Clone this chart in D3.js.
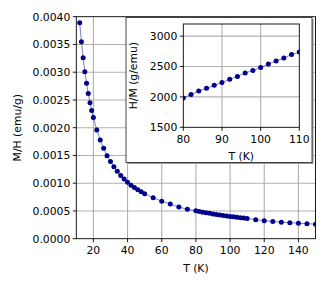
<!DOCTYPE html>
<html>
<head>
<meta charset="utf-8">
<script src="https://cdn.jsdelivr.net/npm/d3@7"></script>
<style>
  body { margin: 0; background: #fff; }
  text { font-family: "DejaVu Sans", sans-serif; fill: #000; }
</style>
</head>
<body>
<div class="chartWrap"></div>
<script>
var width = 328,
  height = 287,
  fontSize = 10.8,
  dotColor = '#00008b',
  gridColor = '#b0b0b0';

// main panel: M/H against T
var temps = [12, 13, 14, 15, 16, 17, 18, 19, 20, 22, 24, 26, 28, 30, 32, 34, 36, 38, 40, 42, 44, 46, 48, 50,
  55, 60, 65, 70, 75,
  80, 82, 84, 86, 88, 90, 92, 94, 96, 98, 100, 102, 104, 106, 108, 110,
  115, 120, 125, 130, 135, 140, 145, 150];
var chi = [0.003892, 0.003550, 0.003261, 0.003009, 0.002800, 0.002616, 0.002450, 0.002310, 0.002184,
  0.001959, 0.001778, 0.001629, 0.001494, 0.001391, 0.001297, 0.001214, 0.001139, 0.001076, 0.001016,
  0.000962, 0.000923, 0.000881, 0.000845, 0.000809,
  0.000737, 0.000676, 0.000625, 0.000571, 0.000530,
  0.000504, 0.000491, 0.000477, 0.000467, 0.000457, 0.000447, 0.000437, 0.000428, 0.000418, 0.000411,
  0.000402, 0.000394, 0.000386, 0.000379, 0.000371, 0.000365,
  0.000342, 0.000325, 0.000311, 0.000298, 0.000289, 0.000280, 0.000271, 0.000262];
var xTicks = [20, 40, 60, 80, 100, 120, 140];
var yTicks = [0, 0.0005, 0.001, 0.0015, 0.002, 0.0025, 0.003, 0.0035, 0.004];

// inset: H/M against T
var insetTemps = [80, 82, 84, 86, 88, 90, 92, 94, 96, 98, 100, 102, 104, 106, 108, 110];
var invChi = [1984, 2038, 2098, 2141, 2190, 2239, 2289, 2338, 2393, 2436, 2485, 2541, 2590, 2639, 2698, 2738];
var insetXTicks = [80, 90, 100, 110];
var insetYTicks = [1500, 2000, 2500, 3000];

var svg = d3.select('.chartWrap')
  .append('svg')
  .attr('width', width)
  .attr('height', height);

// draws a panel: grid, line, dots, spines, ticks
var drawPanel = function(g, x, y, xs, ys, xt, yt, yFmt, id){
  var x0 = x.range()[0], x1 = x.range()[1],
    y0 = y.range()[0], y1 = y.range()[1];

  g.append('clipPath')
    .attr('id', id)
    .append('rect')
      .attr('x', x0).attr('y', y1)
      .attr('width', x1 - x0).attr('height', y0 - y1);

  //grid
  g.selectAll('.vgrid')
    .data(xt.filter(function(d){ return x(d) > x0 + 1 && x(d) < x1 - 1; }))
    .enter()
      .append('line')
      .attr('x1', function(d){ return x(d); })
      .attr('x2', function(d){ return x(d); })
      .attr('y1', y1).attr('y2', y0)
      .style('stroke', gridColor).style('stroke-width', 1.1);
  g.selectAll('.hgrid')
    .data(yt.filter(function(d){ return y(d) < y0 - 1 && y(d) > y1 + 1; }))
    .enter()
      .append('line')
      .attr('y1', function(d){ return y(d); })
      .attr('y2', function(d){ return y(d); })
      .attr('x1', x0).attr('x2', x1)
      .style('stroke', gridColor).style('stroke-width', 1.1);

  var pts = xs.map(function(d, i){ return [d, ys[i]]; });
  var plot = g.append('g').attr('clip-path', 'url(#' + id + ')');

  plot.append('path')
    .datum(pts)
    .attr('d', d3.line().x(function(d){ return x(d[0]); }).y(function(d){ return y(d[1]); }))
    .style('fill', 'none')
    .style('stroke', dotColor)
    .style('stroke-opacity', 0.5)
    .style('stroke-width', 1);

  plot.selectAll('circle')
    .data(pts)
    .enter()
      .append('circle')
      .attr('cx', function(d){ return x(d[0]); })
      .attr('cy', function(d){ return y(d[1]); })
      .attr('r', 2.5)
      .style('fill', dotColor);

  //spines
  g.append('rect')
    .attr('x', x0).attr('y', y1)
    .attr('width', x1 - x0).attr('height', y0 - y1)
    .style('fill', 'none')
    .style('stroke', '#000')
    .style('stroke-width', 0.9);

  //ticks
  g.selectAll('.xtick')
    .data(xt)
    .enter()
      .append('line')
      .attr('x1', function(d){ return x(d); })
      .attr('x2', function(d){ return x(d); })
      .attr('y1', y0).attr('y2', y0 + 3.5)
      .style('stroke', '#000').style('stroke-width', 0.9);
  g.selectAll('.xlab')
    .data(xt)
    .enter()
      .append('text')
      .attr('x', function(d){ return x(d); })
      .attr('y', y0 + 15.5)
      .attr('text-anchor', 'middle')
      .style('font-size', fontSize + 'px')
      .text(function(d){ return d; });
  g.selectAll('.ytick')
    .data(yt)
    .enter()
      .append('line')
      .attr('y1', function(d){ return y(d); })
      .attr('y2', function(d){ return y(d); })
      .attr('x1', x0 - 3.5).attr('x2', x0)
      .style('stroke', '#000').style('stroke-width', 0.9);
  g.selectAll('.ylab')
    .data(yt)
    .enter()
      .append('text')
      .attr('x', x0 - 6)
      .attr('y', function(d){ return y(d); })
      .attr('dy', '0.36em')
      .attr('text-anchor', 'end')
      .style('font-size', fontSize + 'px')
      .text(yFmt);
};

// main axes
var x = d3.scaleLinear().domain([10, 150]).range([76.3, 315.5]),
  y = d3.scaleLinear().domain([0, 0.004]).range([238.7, 16.7]);

var main = svg.append('g');
drawPanel(main, x, y, temps, chi, xTicks, yTicks, d3.format('.4f'), 'clipMain');

main.append('text')
  .attr('x', (x.range()[0] + x.range()[1]) / 2)
  .attr('y', 272)
  .attr('text-anchor', 'middle')
  .style('font-size', fontSize + 'px')
  .text('T (K)');
main.append('text')
  .attr('transform', 'translate(21,' + (y.range()[0] + y.range()[1]) / 2 + ') rotate(-90)')
  .attr('text-anchor', 'middle')
  .style('font-size', fontSize + 'px')
  .text('M/H (emu/g)');

// inset box
svg.append('rect')
  .attr('x', 127.5).attr('y', 19)
  .attr('width', 186).attr('height', 145)
  .style('fill', '#999');
svg.append('rect')
  .attr('x', 126).attr('y', 17.5)
  .attr('width', 186).attr('height', 145)
  .style('fill', '#fff')
  .style('stroke', '#333')
  .style('stroke-width', 0.9);

var ix = d3.scaleLinear().domain([80, 110]).range([183.3, 299.3]),
  iy = d3.scaleLinear().domain([1500, 3200]).range([127.3, 24]);

var inset = svg.append('g');
drawPanel(inset, ix, iy, insetTemps, invChi, insetXTicks, insetYTicks, function(d){ return d; }, 'clipInset');

inset.append('text')
  .attr('x', (ix.range()[0] + ix.range()[1]) / 2)
  .attr('y', 160)
  .attr('text-anchor', 'middle')
  .style('font-size', fontSize + 'px')
  .text('T (K)');
inset.append('text')
  .attr('transform', 'translate(137,' + (iy.range()[0] + iy.range()[1]) / 2 + ') rotate(-90)')
  .attr('text-anchor', 'middle')
  .style('font-size', fontSize + 'px')
  .text('H/M (g/emu)');
</script>
</body>
</html>
